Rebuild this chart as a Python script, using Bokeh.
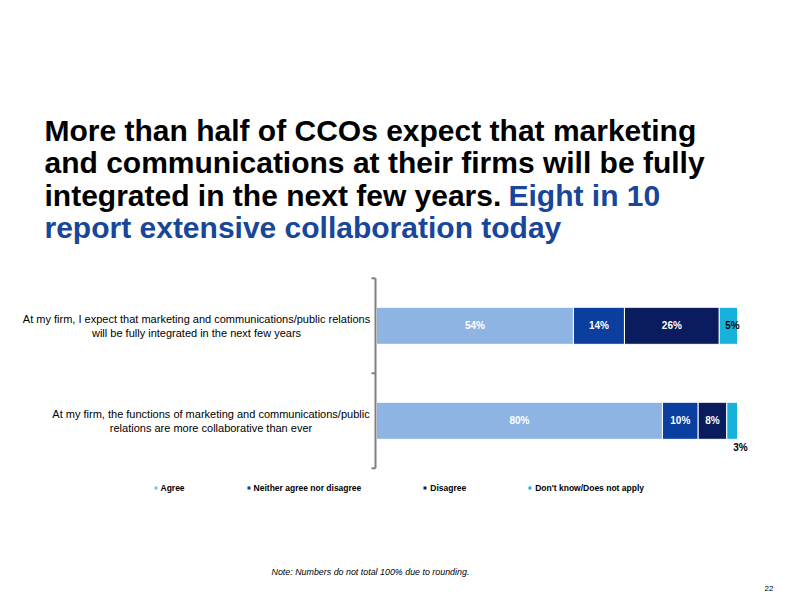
from bokeh.plotting import figure
from bokeh.models import Range1d, Label, Legend, LegendItem, ColumnDataSource
from bokeh.embed import file_html
from bokeh.resources import INLINE
from bokeh.core.properties import value

# ---------------- data ----------------
statements = [
    ["At my firm, I expect that marketing and communications/public relations",
     "will be fully integrated in the next few years"],
    ["At my firm, the functions of marketing and communications/public",
     "relations are more collaborative than ever"],
]
responses = ["Agree", "Neither agree nor disagree", "Disagree", "Don't know/Does not apply"]
agree = [54, 80]
neither = [14, 10]
disagree = [26, 8]
dont_know = [5, 3]
series = [agree, neither, disagree, dont_know]

title_black = ["More than half of CCOs expect that marketing",
               "and communications at their firms will be fully",
               "integrated in the next few years."]
title_blue = ["Eight in 10", "report extensive collaboration today"]
note = "Note: Numbers do not total 100% due to rounding."
page_no = "22"

# ---------------- styles / layout ----------------
colors = ["#8EB4E3", "#0B3F9F", "#0A1C5E", "#17B2DC"]
label_colors = ["white", "white", "white", "black"]
FONT = "Liberation Sans"
TITLE_BLUE = "#17469A"
W, H = 776, 596
OFF = 0            # canvas offset on the page
PX = 3.61          # pixels per percent
X0 = 376           # canvas x of 0 %
UNIT = 95          # pixels per category slot
Y_TOP_BAR = 325.3  # canvas y of first bar centre
n = len(statements)
y_top = (n - 1) + Y_TOP_BAR / UNIT
y_bot = y_top - H / UNIT


def dx(page_x):
    return (page_x - OFF - X0) / PX


def dy(page_y):
    return y_top - (page_y - OFF) / UNIT


p = figure(width=W, height=H, output_backend="svg", toolbar_location=None,
           x_range=Range1d(-X0 / PX, (W - X0) / PX), y_range=Range1d(y_bot, y_top),
           x_axis_type=None, y_axis_type=None, min_border=0,
           min_border_left=0, min_border_right=0, min_border_top=0, min_border_bottom=0)
p.outline_line_color = None
p.grid.visible = False
p.background_fill_color = "white"
p.border_fill_color = "white"

ypos = [n - 1 - i for i in range(n)]
totals = [sum(s[i] for s in series) for i in range(n)]
shares = [[s[i] / totals[i] * 100 for i in range(n)] for s in series]

BAR_H = 0.39
renderers = []
lefts = [0.0] * n
lab_x, lab_y, lab_t, lab_c = [], [], [], []
below_x, below_y, below_t = [], [], []
for k, sh in enumerate(shares):
    rights = [lefts[i] + sh[i] for i in range(n)]
    src = ColumnDataSource(dict(y=ypos, left=lefts, right=rights))
    r = p.hbar(y="y", left="left", right="right", height=BAR_H, source=src,
               fill_color=colors[k], line_color="white", line_width=1)
    renderers.append(r)
    for i in range(n):
        txt = f"{series[k][i]}%"
        if sh[i] < 4:
            below_x.append(rights[i] + 3 / PX)
            below_y.append(ypos[i] - BAR_H / 2 - 8 / UNIT)
            below_t.append(txt)
        else:
            shift = 4 / PX if k == len(series) - 1 else 0
            lab_x.append((lefts[i] + rights[i]) / 2 + shift)
            lab_y.append(ypos[i])
            lab_t.append(txt)
            lab_c.append(label_colors[k])
    lefts = rights

p.text(x="x", y="y", text="t", text_color="c",
       source=ColumnDataSource(dict(x=lab_x, y=lab_y, t=lab_t, c=lab_c)),
       text_font=value(FONT), text_font_style="bold", text_font_size="10px",
       text_align="center", text_baseline="middle")
p.text(x="x", y="y", text="t",
       source=ColumnDataSource(dict(x=below_x, y=below_y, t=below_t)),
       text_color="black", text_font=value(FONT), text_font_style="bold",
       text_font_size="10px", text_align="center", text_baseline="middle")

# category axis line with boundary ticks
ax_x = -1 / PX
bounds = [n - 1 + 0.5 - j for j in range(n + 1)]
p.segment(x0=[ax_x], y0=[bounds[-1]], x1=[ax_x], y1=[bounds[0]],
          line_color="#7F7F7F", line_width=2)
p.segment(x0=[ax_x] * len(bounds), y0=bounds, x1=[ax_x - 4 / PX] * len(bounds), y1=bounds,
          line_color="#7F7F7F", line_width=2)

# category labels (two centred lines, block right-aligned to the axis)
cat_centres = [196, 210.5]
cat_src = dict(x=[], y=[], t=[])
for i, lines in enumerate(statements):
    for j, line in enumerate(lines):
        cat_src["x"].append(dx(cat_centres[i]))
        cat_src["y"].append(ypos[i] + (0.5 - j) * 14 / UNIT)
        cat_src["t"].append(line)
p.text(x="x", y="y", text="t", source=ColumnDataSource(cat_src),
       text_color="black", text_font=value(FONT), text_font_size="11px",
       text_align="center", text_baseline="middle")

# title
TSIZE = "30px"
baselines = [129.5, 162, 194.5, 227]
for j, line in enumerate(title_black):
    p.add_layout(Label(x=dx(44), y=dy(baselines[j]), text=line, text_font=FONT,
                       text_font_size=TSIZE, text_font_style="bold", text_color="black",
                       text_baseline="alphabetic"))
p.add_layout(Label(x=dx(508), y=dy(baselines[2]), text=title_blue[0], text_font=FONT,
                   text_font_size=TSIZE, text_font_style="bold", text_color=TITLE_BLUE,
                   text_baseline="alphabetic"))
p.add_layout(Label(x=dx(44), y=dy(baselines[3]), text=title_blue[1], text_font=FONT,
                   text_font_size=TSIZE, text_font_style="bold", text_color=TITLE_BLUE,
                   text_baseline="alphabetic"))

# legend
legend = Legend(items=[LegendItem(label=responses[k], renderers=[renderers[k]])
                       for k in range(len(responses))],
                orientation="horizontal", location=(152.5 - OFF, H - (492.5 - OFF)),
                glyph_width=5, glyph_height=5, label_height=10, label_standoff=3,
                spacing=61, padding=0, margin=0, border_line_color=None,
                background_fill_alpha=0, label_text_font=FONT,
                label_text_font_size="8.5px", label_text_font_style="bold",
                label_text_color="black")
p.add_layout(legend, "center")

# note and page number
p.add_layout(Label(x=dx(271), y=dy(571), text=note, text_font=FONT,
                   text_font_size="8.9px", text_font_style="italic", text_color="black",
                   text_baseline="middle"))
p.add_layout(Label(x=dx(773), y=dy(588), text=page_no, text_font=FONT,
                   text_font_size="8px", text_color="black", text_align="right",
                   text_baseline="middle"))

open("out.html", "w").write(file_html(p, INLINE))
